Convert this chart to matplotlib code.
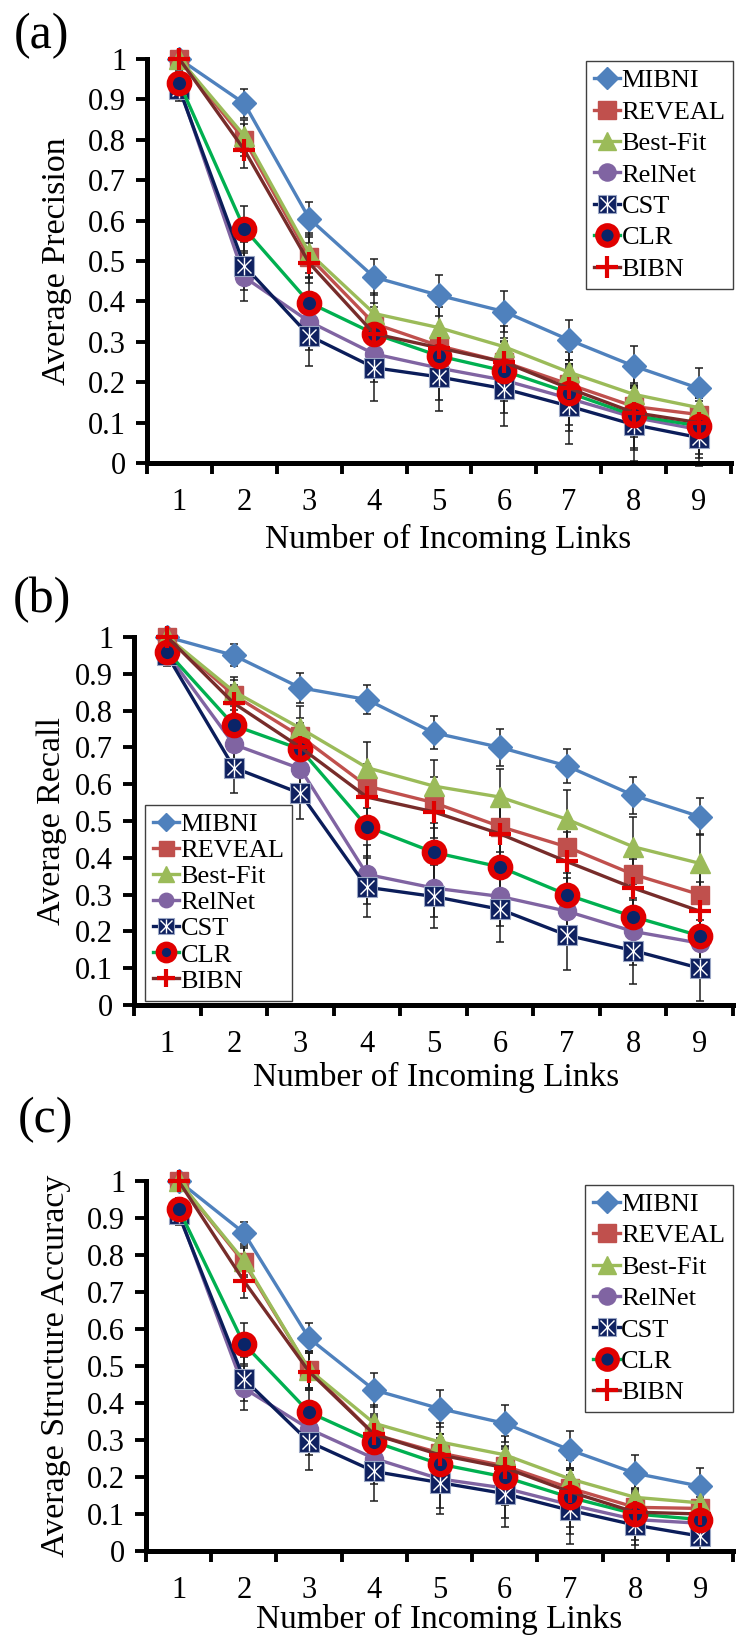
import matplotlib

matplotlib.use("Agg")
import matplotlib.pyplot as plt

plt.rcParams["font.family"] = ["Liberation Serif", "DejaVu Serif"]

W, H = 736, 1638

links = [1, 2, 3, 4, 5, 6, 7, 8, 9]
methods = ["MIBNI", "REVEAL", "Best-Fit", "RelNet", "CST", "CLR", "BIBN"]

# (a) average precision, one row per method (order as in `methods`)
precision = [
    [1.00, 0.89, 0.605, 0.46, 0.415, 0.375, 0.305, 0.24, 0.185],
    [1.00, 0.80, 0.51, 0.345, 0.29, 0.25, 0.195, 0.14, 0.12],
    [1.00, 0.81, 0.52, 0.37, 0.335, 0.288, 0.225, 0.17, 0.137],
    [0.93, 0.46, 0.35, 0.27, 0.235, 0.205, 0.16, 0.113, 0.083],
    [0.925, 0.488, 0.315, 0.236, 0.213, 0.184, 0.141, 0.095, 0.063],
    [0.94, 0.58, 0.397, 0.32, 0.265, 0.228, 0.174, 0.118, 0.092],
    [1.00, 0.775, 0.495, 0.32, 0.285, 0.25, 0.185, 0.125, 0.10],
]
precision_err = [
    [0.0, 0.035, 0.04, 0.045, 0.05, 0.05, 0.05, 0.05, 0.05],
    [0.0, 0.04, 0.05, 0.05, 0.05, 0.05, 0.05, 0.05, 0.05],
    [0.0, 0.04, 0.05, 0.05, 0.05, 0.05, 0.05, 0.05, 0.05],
    [0.03, 0.06, 0.07, 0.07, 0.08, 0.08, 0.08, 0.08, 0.07],
    [0.03, 0.06, 0.075, 0.083, 0.085, 0.093, 0.095, 0.09, 0.07],
    [0.03, 0.055, 0.06, 0.065, 0.07, 0.075, 0.08, 0.08, 0.07],
    [0.0, 0.045, 0.05, 0.055, 0.055, 0.06, 0.06, 0.06, 0.06],
]

# (b) average recall
recall = [
    [1.00, 0.95, 0.862, 0.83, 0.74, 0.70, 0.65, 0.57, 0.512],
    [1.00, 0.842, 0.73, 0.595, 0.55, 0.485, 0.43, 0.355, 0.30],
    [1.00, 0.852, 0.752, 0.645, 0.595, 0.565, 0.505, 0.43, 0.385],
    [0.955, 0.708, 0.642, 0.355, 0.318, 0.295, 0.255, 0.20, 0.168],
    [0.95, 0.645, 0.575, 0.32, 0.295, 0.26, 0.19, 0.148, 0.10],
    [0.96, 0.76, 0.695, 0.485, 0.415, 0.375, 0.30, 0.24, 0.188],
    [1.00, 0.82, 0.70, 0.565, 0.525, 0.465, 0.39, 0.318, 0.255],
]
recall_err = [
    [0.0, 0.03, 0.04, 0.04, 0.045, 0.05, 0.047, 0.05, 0.05],
    [0.0, 0.04, 0.05, 0.06, 0.07, 0.07, 0.07, 0.07, 0.07],
    [0.0, 0.04, 0.06, 0.07, 0.07, 0.075, 0.08, 0.08, 0.08],
    [0.03, 0.06, 0.07, 0.08, 0.08, 0.08, 0.09, 0.09, 0.09],
    [0.03, 0.07, 0.07, 0.08, 0.085, 0.09, 0.095, 0.09, 0.09],
    [0.03, 0.06, 0.07, 0.08, 0.08, 0.085, 0.09, 0.09, 0.09],
    [0.0, 0.05, 0.06, 0.07, 0.07, 0.075, 0.08, 0.08, 0.08],
]

# (c) average structure accuracy
accuracy = [
    [1.00, 0.86, 0.575, 0.435, 0.385, 0.345, 0.273, 0.21, 0.175],
    [1.00, 0.78, 0.49, 0.315, 0.265, 0.23, 0.17, 0.118, 0.115],
    [1.00, 0.785, 0.49, 0.345, 0.295, 0.26, 0.195, 0.145, 0.13],
    [0.915, 0.44, 0.33, 0.25, 0.195, 0.17, 0.125, 0.085, 0.075],
    [0.91, 0.465, 0.295, 0.215, 0.185, 0.155, 0.11, 0.07, 0.04],
    [0.925, 0.56, 0.375, 0.295, 0.235, 0.20, 0.145, 0.10, 0.085],
    [1.00, 0.73, 0.485, 0.315, 0.26, 0.225, 0.16, 0.105, 0.10],
]
accuracy_err = [
    [0.0, 0.03, 0.04, 0.045, 0.05, 0.05, 0.05, 0.05, 0.05],
    [0.0, 0.04, 0.05, 0.05, 0.05, 0.05, 0.05, 0.05, 0.05],
    [0.0, 0.04, 0.05, 0.05, 0.05, 0.05, 0.05, 0.05, 0.05],
    [0.03, 0.06, 0.07, 0.07, 0.08, 0.08, 0.08, 0.07, 0.06],
    [0.03, 0.06, 0.075, 0.08, 0.085, 0.09, 0.09, 0.07, 0.04],
    [0.03, 0.055, 0.06, 0.065, 0.07, 0.075, 0.08, 0.07, 0.06],
    [0.0, 0.045, 0.05, 0.055, 0.055, 0.06, 0.06, 0.06, 0.06],
]

yticks = [0.0, 0.1, 0.2, 0.3, 0.4, 0.5, 0.6, 0.7, 0.8, 0.9, 1.0]

STYLE = {
    "MIBNI": dict(color="#4F81BD", marker="D", ms=12, mfc="#4F81BD", mec="#4F81BD", mew=1),
    "REVEAL": dict(color="#C0504D", marker="s", ms=13.5, mfc="#C0504D", mec="#C0504D", mew=1),
    "Best-Fit": dict(color="#9BBB59", marker="^", ms=14, mfc="#9BBB59", mec="#9BBB59", mew=1),
    "RelNet": dict(color="#8064A2", marker="o", ms=13, mfc="#8064A2", mec="#8064A2", mew=1),
    "CST": dict(color="#0B1D5A", marker="s", ms=14, mfc="#0F2160", mec="#9AA6C4", mew=0.8),
    "CLR": dict(color="#00B050", marker="o", ms=14, mfc="#0A2468", mec="#E00000", mew=4.5),
    "BIBN": dict(color="#772C2A", marker="+", ms=16, mfc="none", mec="#E00000", mew=3),
}


def px_rect(left, top, right, bottom):
    return [left / W, 1 - bottom / H, (right - left) / W, (bottom - top) / H]


def draw_panel(fig, rect, values, errors, ylabel, tag, tag_xy, legend_loc, legend_anchor,
               legend_spacing, legend_scale, xlabel_xy, ylabel_x):
    ax = fig.add_axes(px_rect(*rect))
    handles = []
    for i, name in enumerate(methods):
        st = STYLE[name]
        ax.errorbar(links, values[i], yerr=errors[i], fmt="none", ecolor="#1c1c1c",
                    elinewidth=1.1, capsize=3, capthick=1.1, zorder=1 + i * 0.01, clip_on=False)
        (ln,) = ax.plot(links, values[i], color=st["color"], lw=2.4, marker=st["marker"],
                        ms=st["ms"], mfc=st["mfc"], mec=st["mec"], mew=st["mew"],
                        zorder=3 + i, clip_on=False)
        h = ln
        if name == "CST":
            (x1,) = ax.plot(links, values[i], ls="none", marker="x", ms=10, mec="white", mew=1.0,
                            zorder=3 + i + 0.5, clip_on=False)
            (x2,) = ax.plot(links, values[i], ls="none", marker="|", ms=13, mec="white", mew=1.0,
                            zorder=3 + i + 0.5, clip_on=False)
            h = (ln, x1, x2)
        handles.append(h)

    ax.set_xlim(0.5, 9.5)
    ax.set_ylim(0, 1)
    for s in ("top", "right"):
        ax.spines[s].set_visible(False)
    for s in ("left", "bottom"):
        ax.spines[s].set_linewidth(3.6)
        ax.spines[s].set_color("black")

    ax.set_yticks(yticks)
    ax.set_yticklabels([f"{v:g}" for v in yticks])
    ax.tick_params(axis="y", direction="out", length=8, width=2.8, labelsize=22, pad=7)
    ax.set_xticks(links)
    ax.set_xticklabels([str(v) for v in links])
    ax.set_xticks([v - 0.5 for v in links] + [9.5], minor=True)
    ax.tick_params(axis="x", which="major", length=0, labelsize=22, pad=18)
    ax.tick_params(axis="x", which="minor", direction="out", length=8, width=2.8)

    ax.set_xlabel("Number of Incoming Links", fontsize=24)
    ax.xaxis.set_label_coords(*xlabel_xy)
    ax.set_ylabel(ylabel, fontsize=24.5)
    ax.yaxis.set_label_coords(ylabel_x, 0.5)

    leg = ax.legend(handles, methods, loc=legend_loc, bbox_to_anchor=legend_anchor,
                    fontsize=19, frameon=True, fancybox=False, framealpha=1,
                    borderaxespad=0, borderpad=0.3, labelspacing=legend_spacing,
                    handlelength=1.0, handletextpad=0.05, markerscale=legend_scale)
    leg.get_frame().set_edgecolor("#404040")
    leg.get_frame().set_linewidth(1.0)
    leg.set_zorder(20)

    fig.text(tag_xy[0] / W, 1 - tag_xy[1] / H, tag, fontsize=36, ha="center", va="center")
    return ax


fig = plt.figure(figsize=(W / 100, H / 100), dpi=100)

draw_panel(fig, (147, 59, 731, 463), precision, precision_err, "Average Precision", "(a)",
           (42, 36), "upper right", (1.004, 0.995), 0.3, 0.95, (0.515, -0.151), -0.128)
draw_panel(fig, (134, 637, 733, 1005), recall, recall_err, "Average Recall", "(b)",
           (42, 600), "lower left", (0.018, 0.012), 0.1, 0.8, (0.504, -0.155), -0.112)
draw_panel(fig, (146, 1181, 733, 1551), accuracy, accuracy_err, "Average Structure Accuracy", "(c)",
           (46, 1120), "upper right", (1.0, 0.99), 0.3, 0.95, (0.50, -0.143), -0.128)

fig.savefig("out.png", dpi=100)
